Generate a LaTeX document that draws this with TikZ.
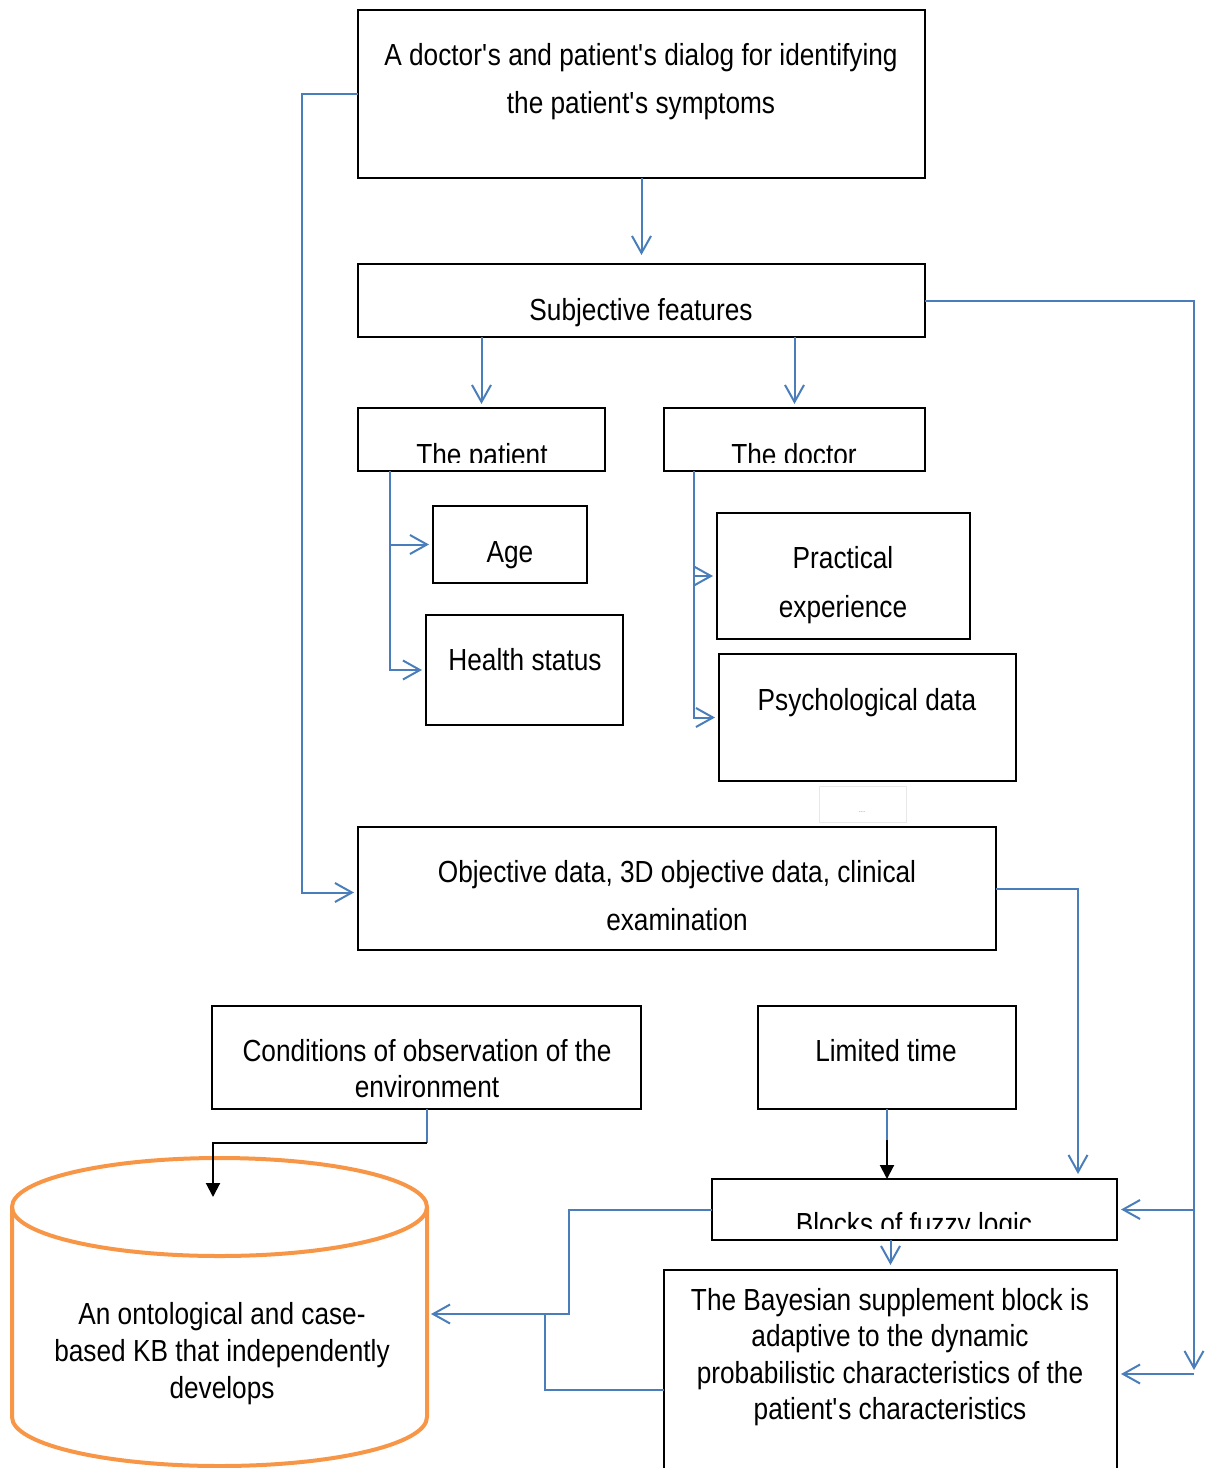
\documentclass[tikz,border=0pt]{standalone}
\usepackage{fontspec}
\setmainfont{Liberation Sans}[FakeStretch=0.86]
\usetikzlibrary{arrows.meta}
\definecolor{cblue}{HTML}{4A7EBB}
\definecolor{corange}{HTML}{F79646}
\newcommand\aps{\textquotesingle}
\begin{document}
\begin{tikzpicture}[x=1pt,y=-1pt,
  box/.style={draw=black,line width=1.3pt,inner sep=0pt,outer sep=0pt,anchor=north west},
  txt/.style={inner sep=0pt,align=center,font=\fontsize{30.5}{48}\selectfont},
  conn/.style={draw=cblue,line width=2pt,-{Straight Barb[length=17pt,width=19pt]},shorten >=4pt},
  bline/.style={draw=cblue,line width=2pt},
  karrow/.style={draw=black,line width=2pt,-{Triangle[length=14pt,width=14pt]}},
]
\useasboundingbox (0,0) rectangle (1205,1468);

% boxes
\node[box,minimum width=567pt,minimum height=168pt] (top) at (358,10) {};
\node[box,minimum width=567pt,minimum height=73pt] (subj) at (358,264) {};
\node[box,minimum width=247pt,minimum height=63pt] (pat) at (358,408) {};
\node[box,minimum width=261pt,minimum height=63pt] (doc) at (664,408) {};
\node[box,minimum width=154pt,minimum height=77pt] (age) at (433,506) {};
\node[box,minimum width=197pt,minimum height=110pt] (health) at (426,615) {};
\node[box,minimum width=253pt,minimum height=126pt] (prac) at (717,513) {};
\node[box,minimum width=297pt,minimum height=127pt] (psych) at (719,654) {};
\node[draw=gray!18,line width=1pt,inner sep=0pt,anchor=north west,minimum width=87pt,minimum height=36pt] (dots) at (819,786) {};
\node[box,minimum width=638pt,minimum height=123pt] (obj) at (358,827) {};
\node[box,minimum width=429pt,minimum height=103pt] (cond) at (212,1006) {};
\node[box,minimum width=258pt,minimum height=103pt] (lim) at (758,1006) {};
\node[box,minimum width=405pt,minimum height=61pt] (fuzzy) at (712,1179) {};
\node[box,minimum width=453pt,minimum height=230pt] (bayes) at (664,1270) {};
\node[inner sep=0pt,outer sep=0pt,anchor=north west,minimum width=415pt,minimum height=308pt] (kb) at (12,1158) {};

% cylinder
\draw[corange,line width=4pt] (219.5,1207) ellipse [x radius=207.5,y radius=49];
\draw[corange,line width=4pt] (12,1207) -- (12,1417) arc[start angle=180,end angle=0,x radius=207.5,y radius=49] -- (427,1207);

% texts
\node[txt] (topT) at (641,82) {A doctor\aps s and patient\aps s dialog for identifying\\the patient\aps s symptoms};
\node[txt,anchor=base] (subjT) at (641,320) {Subjective features};
\begin{scope}
  \clip (pat.north west) rectangle ([yshift=9pt]pat.south east);
  \node[txt,anchor=base] (patT) at (482,465) {The patient};
\end{scope}
\begin{scope}
  \clip (doc.north west) rectangle ([yshift=9pt]doc.south east);
  \node[txt,anchor=base] (docT) at (794,465) {The doctor};
\end{scope}
\node[txt,anchor=base] (ageT) at (510,562) {Age};
\node[txt,anchor=base] (healthT) at (525,670) {Health status};
\node[txt,font=\fontsize{30.5}{49}\selectfont] (pracT) at (843,585) {Practical\\experience};
\node[txt,anchor=base] (psychT) at (867,710) {Psychological data};
\node[inner sep=0pt,font=\fontsize{9}{10}\selectfont,text=gray!80] (dotsT) at (862,812) {...};
\node[txt] (objT) at (677,896) {Objective data, 3D objective data, clinical\\examination};
\node[txt,font=\fontsize{30.5}{36}\selectfont] (condT) at (427,1069) {Conditions of observation of the\\environment};
\node[txt,anchor=base] (limT) at (886,1061) {Limited time};
\begin{scope}
  \clip (fuzzy.north west) rectangle ([yshift=12pt]fuzzy.south east);
  \node[txt,anchor=base] (fuzzyT) at (914,1234) {Blocks of fuzzy logic};
\end{scope}
\node[txt,font=\fontsize{30.5}{36.6}\selectfont] (bayesT) at (890,1357) {The Bayesian supplement block is\\adaptive to the dynamic\\probabilistic characteristics of the\\patient\aps s characteristics};
\node[txt,font=\fontsize{30.5}{37}\selectfont] (kbT) at (222,1354) {An ontological and case-\\based KB that independently\\develops};

% connectors
\coordinate (rbus) at (1194,1374);
\coordinate (kbtop) at (213,1197);
\draw[conn] (top.west) -- ++(-56,0) |- ([yshift=-4pt]obj.west);
\draw[conn,shorten >=9pt] (top.south) -- (subj.north);
\draw[conn] (pat.north |- subj.south) -- (pat.north);
\draw[conn] (doc.north |- subj.south) -- (doc.north);
\draw[conn] (subj.east) -| (rbus);
\draw[conn] (rbus |- fuzzy.east) -- (fuzzy.east);
\draw[conn] (rbus) -- (bayes.east |- rbus);
\draw[conn] ([xshift=32pt]pat.south west) |- (age.west);
\draw[conn] ([xshift=32pt]pat.south west) |- (health.west);
\draw[conn] ([xshift=30pt]doc.south west) |- (prac.west);
\draw[conn] ([xshift=30pt]doc.south west) |- (psych.west);
\draw[conn,shorten >=5pt] (obj.east) -| ([xshift=-39pt]fuzzy.north east);
\draw[bline] (cond.south) -- ++(0,34) coordinate (cb);
\draw[karrow] (cb) -| (kbtop);
\draw[bline] (lim.south) -- ++(0,31) coordinate (lb);
\draw[karrow] (lb) -- (lim.south |- fuzzy.north);
\draw[conn,shorten >=5pt] (bayes.north |- fuzzy.south) -- (bayes.north);
\draw[conn] (fuzzy.west) -- ++(-143,0) |- ([yshift=-2pt]kb.east);
\draw[bline] ([yshift=-5pt]bayes.west) -| ([xshift=118pt,yshift=-2pt]kb.east);
\end{tikzpicture}
\end{document}
